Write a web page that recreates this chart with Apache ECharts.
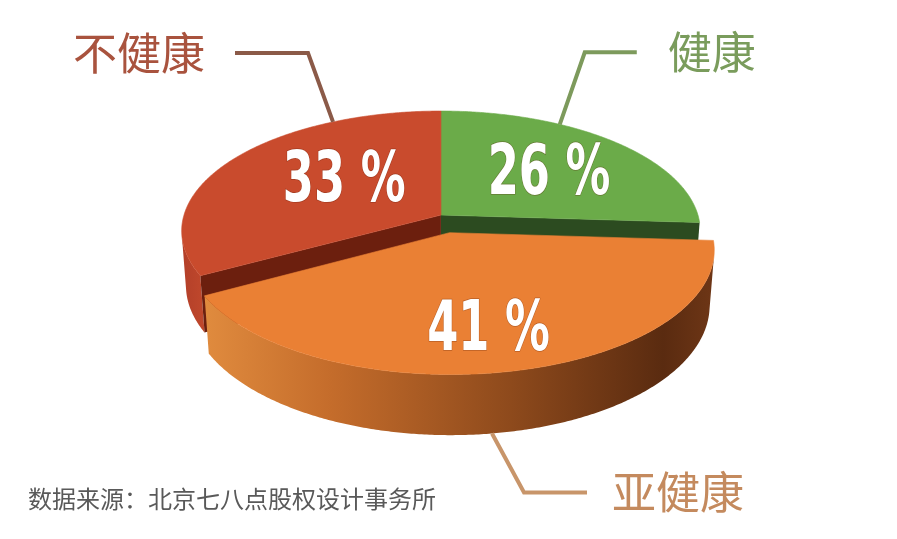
<!DOCTYPE html>
<html><head><meta charset="utf-8">
<script src="https://cdn.jsdelivr.net/npm/echarts@6/dist/echarts.min.js"></script>
<style>html,body{margin:0;padding:0;background:#fff}#c{width:897px;height:539px}</style>
</head><body><div id="c"></div>
<script>
// ---- data ----
const categories = ['健康', '亚健康', '不健康'];
const values = [26, 41, 33];
const sourceText = '数据来源：北京七八点股权设计事务所';

// ---- styles / layout (not data) ----
const topColors = ['#6bab49', '#ea8034', '#c94b2d'];
const cutColors = ['#2c4b20', '#7a3a14', '#6c1f0e'];
const wallStops = [
  [[0, '#4a7a32'], [1, '#3a6226']],
  [[0, '#e08b3e'], [0.25, '#c46c2b'], [0.6, '#8e4a1c'], [0.9, '#5a2b10'], [1, '#6e3616']],
  [[0, '#b33f29'], [1, '#c0482c']]
];
const catColors = ['#7a9c5c', '#c48a5e', '#a9533e'];
const lineColors = ['#7d9a5c', '#c8956a', '#8b5a48'];
const explodeDist = [0, 0.15, 0];
const labelRadius = [0.56, 0.74, 0.48];
const labelShift = [5, 2.4, 5];
// leader: [rim angle, onBottom, elbow dx, elbow dy, end dx, end dy, label gap, align]
const leaders = [
  [31, false, 25, -72, 77, -72, 31, 'left'],
  [172, true, 32, 59, 95, 59, 25, 'left'],
  [332, false, -25, -69, -98, -69, -30, 'right']
];
const CAM = {cxPct: 0.4916, cyPct: 0.399, rPct: 0.2865, D: 6.68, phiDeg: 27.3, H: 0.241};
const pctFont = {size: 70, scaleX: 0.64};

const chart = echarts.init(document.getElementById('c'), null, {renderer: 'canvas'});

function renderItem(params, api) {
  const W = api.getWidth(), Hh = api.getHeight();
  const cx = W * CAM.cxPct, cy = Hh * CAM.cyPct;
  const f = W * CAM.rPct * CAM.D;
  const phi = CAM.phiDeg * Math.PI / 180, s = Math.sin(phi), c = Math.cos(phi);
  const D = CAM.D, H = CAM.H;
  function proj(u, v, h) {
    const yc = v * s + h * c, zc = D + v * c - h * s;
    return [cx + f * u / zc, cy - f * yc / zc];
  }
  const i = params.dataIndex;
  const total = values.reduce((a, b) => a + b, 0);
  let acc = 0;
  for (let k = 0; k < i; k++) acc += values[k];
  const val = api.value(0);
  const a0 = acc / total * 360, a1 = (acc + val) / total * 360;
  const rad = d => d * Math.PI / 180;
  const mid = rad((a0 + a1) / 2);
  const Ou = explodeDist[i] * Math.sin(mid), Ov = explodeDist[i] * Math.cos(mid);
  const P = (th, r, h) => proj(Ou + r * Math.sin(th), Ov + r * Math.cos(th), h);

  const depth = values.map((v, k) => {
    let ac = 0; for (let q = 0; q < k; q++) ac += values[q];
    const m = rad((ac + v / 2) / total * 360);
    return Math.cos(m) + explodeDist[k] * Math.cos(m);
  });
  const order = depth.map((d, k) => k).sort((x, y) => depth[y] - depth[x]);
  const base = order.indexOf(i) * 10;

  const children = [];
  const step = 0.5;
  let visPts = [];
  for (let d = a0; d <= a1 + 1e-6; d += step) {
    const th = rad(Math.min(d, a1));
    const vis = -Math.sin(th) * Ou - Math.cos(th) * (D * c + Ov) - 1 > 0;
    if (vis) visPts.push(th);
  }
  if (visPts.length > 1) {
    const pts = [];
    visPts.forEach(th => pts.push(P(th, 1, 0)));
    for (let k = visPts.length - 1; k >= 0; k--) pts.push(P(visPts[k], 1, -H));
    children.push({
      type: 'polygon', z2: base + 1, shape: {points: pts},
      style: {fill: new echarts.graphic.LinearGradient(0, 0, 1, 0, wallStops[i].map(x => ({offset: x[0], color: x[1]})))}
    });
  }
  const faces = [[rad(a0), true], [rad(a1), false]];
  faces.forEach(([al, isStart]) => {
    const nu = isStart ? -Math.cos(al) : Math.cos(al);
    const nv = isStart ? Math.sin(al) : -Math.sin(al);
    const vis = nu * (0 - Ou) + nv * (-D * c - Ov) > 1e-6;
    if (!vis) return;
    children.push({
      type: 'polygon', z2: base + 2,
      shape: {points: [P(0, 0, 0), P(al, 1, 0), P(al, 1, -H), P(0, 0, -H)]},
      style: {fill: cutColors[i]}
    });
  });
  const topPts = [P(0, 0, 0)];
  for (let d = a0; d <= a1 + 1e-6; d += step) topPts.push(P(rad(Math.min(d, a1)), 1, 0));
  topPts.push(P(rad(a1), 1, 0));
  children.push({type: 'polygon', z2: base + 5, shape: {points: topPts},
    style: {fill: topColors[i], stroke: topColors[i], lineWidth: 0.6}});

  const lp = P(rad((a0 + a1) / 2 + labelShift[i]), labelRadius[i], 0);
  children.push({
    type: 'text', z2: 100, x: lp[0], y: lp[1], scaleX: pctFont.scaleX, scaleY: 1,
    style: {
      text: val + ' %', x: 0, y: 0, align: 'center', verticalAlign: 'middle',
      fill: '#ffffff', font: 'bold ' + pctFont.size + 'px "DejaVu Sans", sans-serif',
      stroke: 'rgba(90,30,10,0.35)', lineWidth: 1.5,
      shadowColor: 'rgba(60,20,0,0.55)', shadowBlur: 3, shadowOffsetX: 1, shadowOffsetY: 2
    }
  });
  const L = leaders[i];
  const st = P(rad(L[0]), 1, L[1] ? -H : 0);
  const el = [st[0] + L[2], st[1] + L[3]];
  const en = [st[0] + L[4], st[1] + L[5]];
  children.push({type: 'polyline', z2: 99, shape: {points: [st, el, en]},
    style: {stroke: lineColors[i], lineWidth: 4, fill: null, lineJoin: 'miter'}});
  children.push({
    type: 'text', z2: 100,
    style: {
      text: categories[i], x: en[0] + L[6], y: en[1], align: L[7], verticalAlign: 'middle',
      fill: catColors[i], font: '44px "Noto Sans CJK SC", sans-serif'
    }
  });
  return {type: 'group', children};
}

chart.setOption({
  animation: false,
  backgroundColor: '#ffffff',
  title: {
    text: sourceText, left: 23, top: 482,
    textStyle: {fontSize: 24, fontWeight: 'normal', color: '#595959', fontFamily: '"Noto Sans CJK SC", sans-serif'}
  },
  series: [{
    type: 'custom',
    coordinateSystem: 'none',
    renderItem: renderItem,
    data: values.map((v, k) => ({name: categories[k], value: [v]}))
  }]
});
</script></body></html>
